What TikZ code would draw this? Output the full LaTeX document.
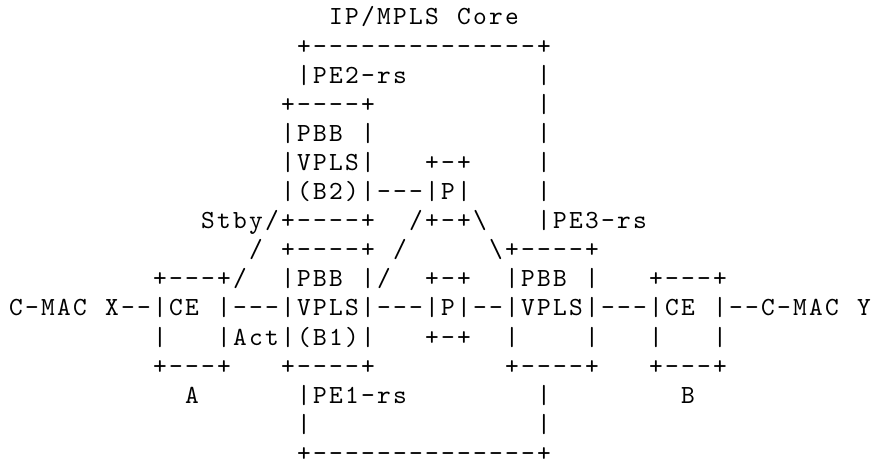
\documentclass[tikz,border=0pt]{standalone}
\usepackage{fontspec}
\newcommand\bs{\textbackslash}
\newlength\asciicw
\setlength\asciicw{6pt}
\def\asciiline#1{\asciiloop#1\relax}
\def\asciiloop#1{\ifx#1\relax\else\asciichar#1\expandafter\asciiloop\fi}
\def\asciichar#1{\makebox[\asciicw][c]{\ifx_#1\else#1\fi}}
\tikzset{
  al/.style={inner sep=0pt, outer sep=0pt, anchor=base west,
    font=\ttfamily\fontsize{9.8pt}{11pt}\selectfont}
}
\begin{document}
\begin{tikzpicture}
\useasboundingbox (0,0) rectangle (326.625pt,-174.375pt);
% column c -> x = 3pt + c*6pt ; row r -> y = -(9.375pt + (r-1)*10.91pt)
\node[al] (l1)  at ({3pt+20*6pt},{-9.375pt-0*10.91pt})  {\asciiline{IP/MPLS_Core}};
\node[al] (l2)  at ({3pt+18*6pt},{-9.375pt-1*10.91pt})  {\asciiline{+--------------+}};
\node[al] (l3)  at ({3pt+18*6pt},{-9.375pt-2*10.91pt})  {\asciiline{|PE2-rs________|}};
\node[al] (l4)  at ({3pt+17*6pt},{-9.375pt-3*10.91pt})  {\asciiline{+----+__________|}};
\node[al] (l5)  at ({3pt+17*6pt},{-9.375pt-4*10.91pt})  {\asciiline{|PBB_|__________|}};
\node[al] (l6)  at ({3pt+17*6pt},{-9.375pt-5*10.91pt})  {\asciiline{|VPLS|___+-+____|}};
\node[al] (l7)  at ({3pt+17*6pt},{-9.375pt-6*10.91pt})  {\asciiline{|(B2)|---|P|____|}};
\node[al] (l8)  at ({3pt+12*6pt},{-9.375pt-7*10.91pt})  {\asciiline{Stby/+----+__/+-+\bs___|PE3-rs}};
\node[al] (l9)  at ({3pt+15*6pt},{-9.375pt-8*10.91pt})  {\asciiline{/_+----+_/_____\bs+----+}};
\node[al] (l10) at ({3pt+9*6pt},{-9.375pt-9*10.91pt})   {\asciiline{+---+/__|PBB_|/__+-+__|PBB_|___+---+}};
\node[al] (l11) at ({3pt+0*6pt},{-9.375pt-10*10.91pt})  {\asciiline{C-MAC_X--|CE_|---|VPLS|---|P|--|VPLS|---|CE_|--C-MAC_Y}};
\node[al] (l12) at ({3pt+9*6pt},{-9.375pt-11*10.91pt})  {\asciiline{|___|Act|(B1)|___+-+__|____|___|___|}};
\node[al] (l13) at ({3pt+9*6pt},{-9.375pt-12*10.91pt})  {\asciiline{+---+___+----+________+----+___+---+}};
\node[al] (l14) at ({3pt+11*6pt},{-9.375pt-13*10.91pt}) {\asciiline{A______|PE1-rs________|________B}};
\node[al] (l15) at ({3pt+18*6pt},{-9.375pt-14*10.91pt}) {\asciiline{|______________|}};
\node[al] (l16) at ({3pt+18*6pt},{-9.375pt-15*10.91pt}) {\asciiline{+--------------+}};
\end{tikzpicture}
\end{document}
